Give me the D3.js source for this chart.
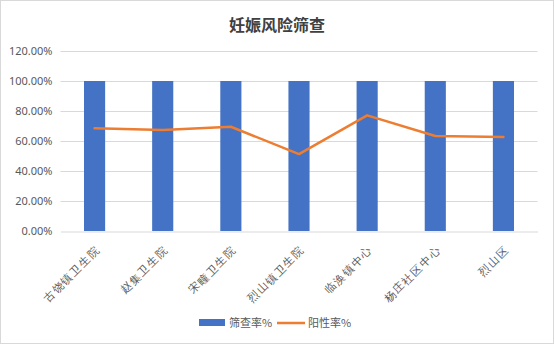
<!DOCTYPE html>
<html>
<head>
<meta charset="utf-8">
<script src="https://cdn.jsdelivr.net/npm/d3@7"></script>
<style>
  html, body { margin: 0; padding: 0; background: #fff; }
  svg { display: block; font-family: "Noto Sans CJK SC", "Noto Sans", sans-serif; }
</style>
</head>
<body>
<svg id="chart" width="554" height="344"></svg>
<script>
const categories = ["古饶镇卫生院", "赵集卫生院", "宋疃卫生院", "烈山镇卫生院", "临涣镇中心", "杨庄社区中心", "烈山区"];
const screeningRate = [1, 1, 1, 1, 1, 1, 1];
const positiveRate = [0.685, 0.673, 0.695, 0.513, 0.771, 0.633, 0.627];
const yTicks = [0, 0.2, 0.4, 0.6, 0.8, 1.0, 1.2];
const seriesNames = ["筛查率%", "阳性率%"];
const colors = ["#4472c4", "#ed7d31"];

const svg = d3.select("#chart");
const W = 554, H = 344;
const margin = { left: 60.5, right: 16.5, top: 51, bottom: 113 };

svg.append("rect")
  .attr("x", 0.5).attr("y", 0.5).attr("width", W - 1).attr("height", H - 1)
  .attr("fill", "#fff").attr("stroke", "#d9d9d9");

svg.append("text")
  .attr("x", W / 2).attr("y", 31)
  .attr("text-anchor", "middle")
  .attr("font-size", 16).attr("font-weight", "bold")
  .attr("fill", "#404040")
  .text("妊娠风险筛查");

const x = d3.scaleBand()
  .domain(categories)
  .range([margin.left, W - margin.right])
  .paddingInner(0.69).paddingOuter(0.345);

const y = d3.scaleLinear()
  .domain([0, 1.2])
  .range([H - margin.bottom, margin.top]);

// horizontal grid
svg.append("g")
  .selectAll("line")
  .data(yTicks.filter(t => t > 0))
  .join("line")
  .attr("x1", margin.left).attr("x2", W - margin.right)
  .attr("y1", d => Math.round(y(d)) + 0.5).attr("y2", d => Math.round(y(d)) + 0.5)
  .attr("stroke", "#d9d9d9");

// y axis labels
const yAxis = d3.axisLeft(y).tickValues(yTicks).tickSize(0).tickPadding(8)
  .tickFormat(d => (d * 100).toFixed(2) + "%");
const gy = svg.append("g").attr("transform", `translate(${margin.left},0)`).call(yAxis);
gy.select(".domain").remove();
gy.selectAll("text").attr("font-size", 11).attr("fill", "#595959")
  .attr("font-family", "\"Noto Sans\", sans-serif");

// bars
svg.append("g")
  .selectAll("rect")
  .data(categories)
  .join("rect")
  .attr("x", d => x(d))
  .attr("width", x.bandwidth())
  .attr("y", (d, i) => y(screeningRate[i]))
  .attr("height", (d, i) => y(0) - y(screeningRate[i]))
  .attr("fill", colors[0]);

// x axis
const xAxis = d3.axisBottom(x).tickSize(0).tickPadding(0);
const gx = svg.append("g").attr("transform", `translate(0,${Math.round(y(0)) + 0.5})`).call(xAxis);
gx.select(".domain").attr("stroke", "#d9d9d9");
gx.selectAll("text")
  .attr("font-size", 11).attr("fill", "#595959")
  .attr("letter-spacing", "1.4px")
  .attr("text-anchor", "end")
  .attr("dy", null).attr("y", 0)
  .attr("transform", "translate(6,19) rotate(-45)");

// positive rate line
const line = d3.line()
  .x((d, i) => x(categories[i]) + x.bandwidth() / 2)
  .y(d => y(d));
svg.append("path")
  .datum(positiveRate)
  .attr("d", line)
  .attr("fill", "none")
  .attr("stroke", colors[1])
  .attr("stroke-width", 2.5)
  .attr("stroke-linejoin", "round")
  .attr("stroke-linecap", "round");

// legend
const lg = svg.append("g").attr("transform", "translate(199,323)");
lg.append("rect").attr("x", 0).attr("y", -4).attr("width", 26).attr("height", 7).attr("fill", colors[0]);
lg.append("text").attr("x", 30).attr("y", 4).attr("font-size", 11).attr("fill", "#595959").text(seriesNames[0]);
lg.append("line").attr("x1", 78).attr("x2", 106).attr("y1", 0).attr("y2", 0)
  .attr("stroke", colors[1]).attr("stroke-width", 2.5);
lg.append("text").attr("x", 109).attr("y", 4).attr("font-size", 11).attr("fill", "#595959").text(seriesNames[1]);
</script>
</body>
</html>
